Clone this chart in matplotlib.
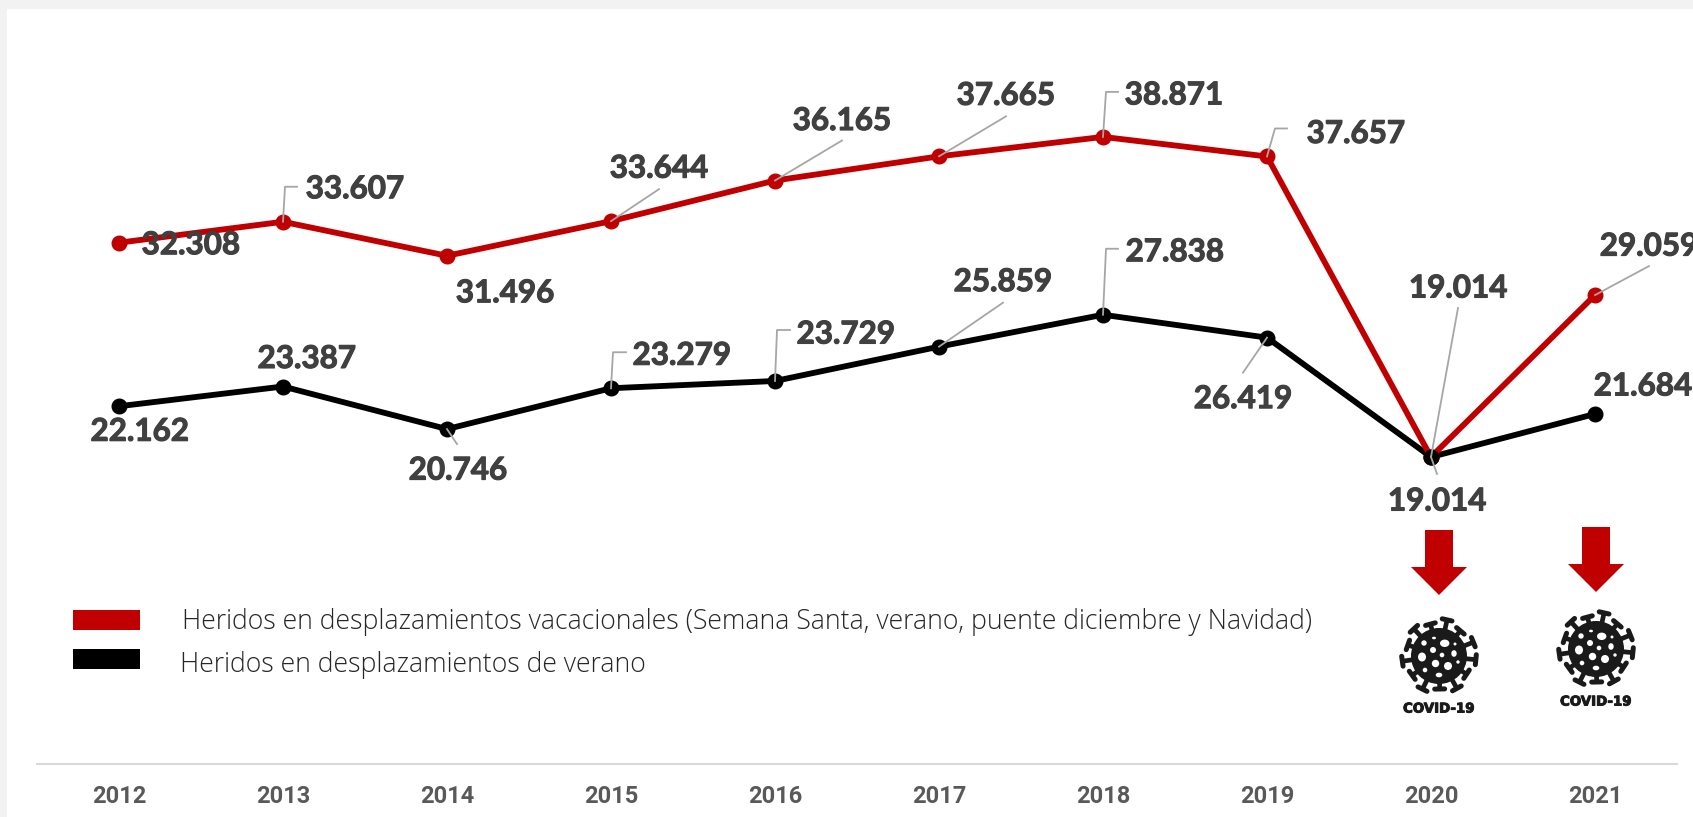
import matplotlib
matplotlib.use("Agg")
import matplotlib.pyplot as plt
from matplotlib.patches import Rectangle, Polygon, Circle, Ellipse
from matplotlib.transforms import IdentityTransform
import matplotlib.patheffects as pe
import numpy as np

W, H = 1693, 817

years = [2012, 2013, 2014, 2015, 2016, 2017, 2018, 2019, 2020, 2021]
heridos_vacaciones = [32308, 33607, 31496, 33644, 36165, 37665, 38871, 37657, 19014, 29059]
heridos_verano = [22162, 23387, 20746, 23279, 23729, 25859, 27838, 26419, 19014, 21684]

legend_labels = ["Heridos en desplazamientos vacacionales (Semana Santa, verano, puente diciembre y Navidad)",
                 "Heridos en desplazamientos de verano"]

ROJO = "#c00000"
NEGRO = "#000000"
GRIS = "#a6a6a6"
TEXTO = "#404040"

# label centre relative to its point, in pixels (y goes down)
off_vacaciones = [(72, 0), (72, -35), (58, 35), (48, -55), (67, -62), (67, -63), (71, -44), (89, -25), (27, -171), (54, -51)]
off_verano = [(21, 23), (24, -30), (11, 39), (71, -35), (71, -49), (64, -67), (72, -65), (-24, 59), (6, 42), (48, -30)]

# leader lines, same idea
lead_vacaciones = [None, [(2, -35), (14, -35)], None, [(48, -32)], [(67, -40)], [(67, -40)],
                   [(3, -45), (15, -45)], [(8, -28), (20, -28)], [(27, -149)], [(54, -29)]]
lead_verano = [None, None, [(10, 15)], [(2, -36), (15, -36)], [(2, -51), (15, -51)], [(64, -44)],
               [(3, -66), (15, -66)], [(-24, 35)], [(6, 17)], None]

fig = plt.figure(figsize=(W / 100, H / 100), dpi=100, facecolor="#f2f2f2")

# overlay in pixel coordinates for the frame, the legend and the covid icons
bg = fig.add_axes([0, 0, 1, 1], zorder=0)
bg.set_xlim(0, W)
bg.set_ylim(H, 0)
bg.axis("off")
bg.add_patch(Rectangle((7, 9), W, H, color="white", lw=0))

ax = fig.add_axes([37 / W, (H - 763.5) / H, 1640 / W, 725.4 / H], zorder=1)
ax.patch.set_alpha(0)
ax.set_xlim(-0.5, 9.5)
ax.set_ylim(0, 45000)
for s in ["top", "left", "right"]:
    ax.spines[s].set_visible(False)
ax.spines["bottom"].set_color("#d9d9d9")
ax.spines["bottom"].set_linewidth(1.5)
ax.set_yticks([])
ax.set_xticks(range(len(years)))
ax.set_xticklabels(years, fontfamily="Roboto", fontweight="bold", fontsize=17, color="#595959")
ax.tick_params(axis="x", length=0, pad=15.5)

x = list(range(len(years)))
ax.plot(x, heridos_verano, color=NEGRO, lw=4.2, marker="o", ms=10.5, zorder=3)
ax.plot(x, heridos_vacaciones, color=ROJO, lw=4.2, marker="o", ms=10.5, zorder=3)
# the black 2020 point sits on top of the red lines
ax.plot(x[8], heridos_verano[8], color=NEGRO, marker="o", ms=10.5, zorder=4)

grueso = [pe.withStroke(linewidth=0.8, foreground=TEXTO)]


def etiquetas(valores, offs, leads):
    for i, v in enumerate(valores):
        px, py = ax.transData.transform((i, v))
        if leads[i] is not None:
            xs = [px] + [px + o[0] for o in leads[i]]
            ys = [py] + [py - o[1] for o in leads[i]]
            ax.plot(xs, ys, color=GRIS, lw=1.3, transform=IdentityTransform(), zorder=5, clip_on=False)
        texto = f"{v:,}".replace(",", ".")
        ax.annotate(texto, (i, v), xytext=(offs[i][0], -offs[i][1]), textcoords="offset pixels",
                    ha="center", va="center_baseline", fontfamily="Lato", fontweight="bold",
                    fontsize=22.6, color=TEXTO, zorder=6, annotation_clip=False, path_effects=grueso)


etiquetas(heridos_vacaciones, off_vacaciones, lead_vacaciones)
etiquetas(heridos_verano, off_verano, lead_verano)

# legend
bg.add_patch(Rectangle((73, 610), 67, 20, color=ROJO, lw=0))
bg.add_patch(Rectangle((73, 649), 67, 20, color=NEGRO, lw=0))
bg.text(182, 622, legend_labels[0], fontfamily="Open Sans", fontsize=19.2, color="#262626", va="center", fontweight="light")
bg.text(180, 665, legend_labels[1], fontfamily="Open Sans", fontsize=19.2, color="#262626", va="center", fontweight="light")


def flecha(cx, top):
    pts = [(cx - 14, top), (cx + 14, top), (cx + 14, top + 37), (cx + 28, top + 37),
           (cx, top + 65), (cx - 28, top + 37), (cx - 14, top + 37)]
    bg.add_patch(Polygon(pts, closed=True, color=ROJO, lw=0))


def virus(cx, cy):
    col = "#1a1a1a"
    bg.add_patch(Circle((cx, cy), 28, color=col, lw=0))
    for k, ang in enumerate(np.linspace(0, 2 * np.pi, 13, endpoint=False) + 0.1):
        r = 37 if k % 2 == 0 else 33
        dx, dy = np.cos(ang), np.sin(ang)
        bg.plot([cx + 24 * dx, cx + r * dx], [cy + 24 * dy, cy + r * dy], color=col, lw=3.4, solid_capstyle="butt")
        bg.plot([cx + r * dx - 5 * dy, cx + r * dx + 5 * dy], [cy + r * dy + 5 * dx, cy + r * dy - 5 * dx],
                color=col, lw=3.6, solid_capstyle="round")
    huecos = [(5.7, -12.7, 4.7, 3.7), (-15, -13, 2.7, 2.7), (-5, -18, 2, 1.3), (16, -12, 1.5, 1.5),
              (-6, -6, 3, 3), (-17, 1, 4, 4.5), (3, -1, 2.3, 2.3), (15, -2.5, 2.7, 3.3), (-3.5, 7.5, 3.7, 3.7),
              (9, 10, 4, 4), (19, 6, 1.7, 1.7), (-14, 14, 2.3, 2.3), (0, 19, 3.3, 2.3)]
    for hx, hy, rx, ry in huecos:
        bg.add_patch(Ellipse((cx + hx, cy + hy), 2 * rx, 2 * ry, color="white", lw=0, zorder=3))
    bg.text(cx, cy + 53, "COVID-19", fontfamily="DejaVu Sans", fontweight="bold", fontsize=9.6,
            color=col, ha="center", va="center",
            path_effects=[pe.withStroke(linewidth=0.7, foreground=col)])


flecha(1439, 530)
flecha(1596, 527)
virus(1439, 656)
virus(1596, 649)

fig.savefig("out.png", dpi=100, facecolor=fig.get_facecolor())
